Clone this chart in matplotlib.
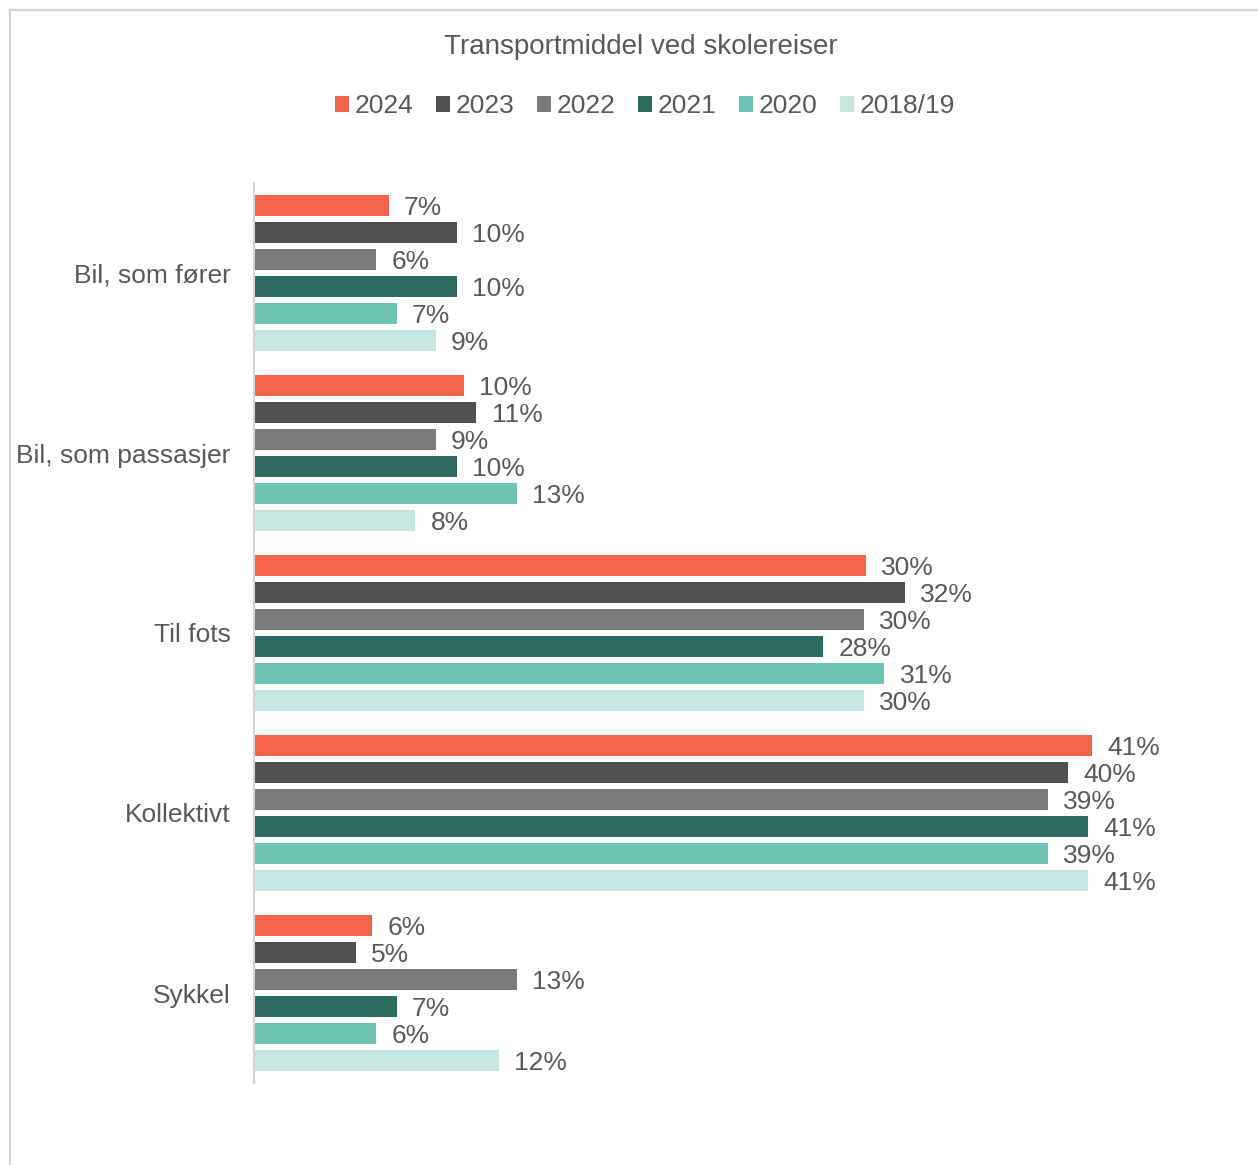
import numpy as np
from matplotlib import pyplot as plt
from matplotlib.lines import Line2D

plt.rcParams['font.family'] = ['Liberation Sans', 'DejaVu Sans']

categories = ["Bil, som fører", "Bil, som passasjer", "Til fots", "Kollektivt", "Sykkel"]
years = ["2024", "2023", "2022", "2021", "2020", "2018/19"]
colors = ["#F2654A", "#505050", "#7A7A7A", "#2D6B5F", "#6FC3B2", "#C6E6DF"]

# share per category (%), one list per year
v2024 = [6.6, 10.3, 30.0, 41.1, 5.8]
v2023 = [9.95, 10.9, 31.9, 39.9, 5.0]
v2022 = [6.0, 8.9, 29.9, 38.9, 12.9]
v2021 = [9.95, 9.95, 27.9, 40.9, 7.0]
v2020 = [7.0, 12.9, 30.9, 38.9, 6.0]
v2018 = [8.9, 7.9, 29.9, 40.9, 12.0]
series = [v2024, v2023, v2022, v2021, v2020, v2018]

W, H = 1258, 1165
fig = plt.figure(figsize=(W / 100, H / 100), dpi=100)
ax = fig.add_axes([254 / W, 1 - 1083 / H, (1172 - 254) / W, (1083 - 183) / H])

text_col = "#595959"
pitch = 0.15
bar_h = 0.122
y = np.arange(len(categories))
for i, (vals, col, yr) in enumerate(zip(series, colors, years)):
    pos = y + (i - 2.5) * pitch
    ax.barh(pos, vals, height=bar_h, color=col, label=yr)
    for p, v in zip(pos, vals):
        ax.annotate(f"{v:.0f}%", (v, p), xytext=(11, -2), textcoords="offset points",
                    va="center", ha="left", fontsize=19, color=text_col)

ax.set_ylim(len(categories) - 0.5, -0.5)
ax.set_xlim(0, 45)
ax.set_yticks(y)
ax.set_yticklabels(categories, fontsize=19, color=text_col)
ax.tick_params(axis="y", length=0, pad=17)
ax.set_xticks([])
for s in ["top", "right", "bottom"]:
    ax.spines[s].set_visible(False)
ax.spines["left"].set_color("#DCD0D4")
ax.spines["left"].set_linewidth(1.5)

fig.text(641 / W, 1 - 47 / H, "Transportmiddel ved skolereiser", ha="center", va="center",
         fontsize=20, color=text_col)
handles, labels = ax.get_legend_handles_labels()
fig.legend(handles, labels, loc="center", bbox_to_anchor=(645 / W, 1 - 106 / H), ncol=6,
           frameon=False, fontsize=19, labelcolor=text_col, handlelength=0.55,
           handleheight=0.55, handletextpad=0.2, columnspacing=0.85)

# chart border (left and top only)
fig.add_artist(Line2D([10 / W, 10 / W], [0, 1 - 10 / H], transform=fig.transFigure,
                      color="#DCD0D4", lw=1.5))
fig.add_artist(Line2D([10 / W, 1], [1 - 10 / H, 1 - 10 / H], transform=fig.transFigure,
                      color="#DCD0D4", lw=1.5))

fig.savefig("out.png", dpi=100, facecolor="white")
